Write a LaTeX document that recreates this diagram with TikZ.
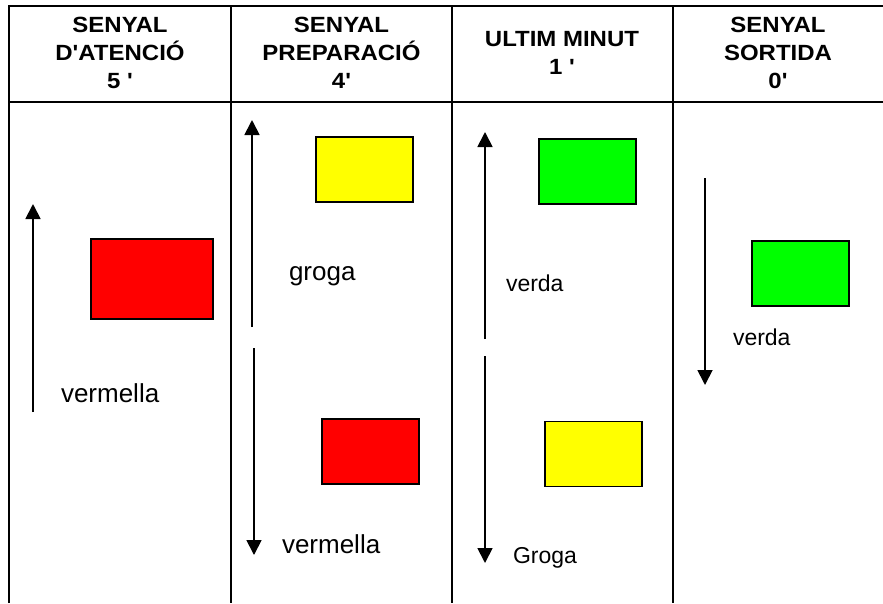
\documentclass[tikz,border=0pt]{standalone}
\usepackage{fontspec}
\setmainfont{Liberation Sans}[Ligatures=TeXOff]
\newfontfamily\headfont{Liberation Sans}[Ligatures=TeXOff,FakeStretch=1.09]
\usetikzlibrary{arrows.meta, positioning}
\definecolor{flagred}{RGB}{255,0,0}
\definecolor{flagyellow}{RGB}{255,255,0}
\definecolor{flaggreen}{RGB}{0,255,0}

\begin{document}
\begin{tikzpicture}[x=1pt,y=-1pt,
    every node/.style={inner sep=0,outer sep=0},
    head/.style={font=\headfont\bfseries\fontsize{22}{27.7}\selectfont,align=center},
    flag/.style={draw,line width=1.4pt,minimum width=97pt,minimum height=65pt},
    lbl/.style={font=\fontsize{23}{27}\selectfont,anchor=base west},
    biglbl/.style={lbl,font=\fontsize{26}{30}\selectfont},
    sig/.style={line width=1.8pt,-{Triangle[length=15pt,width=15pt]}}]
  \useasboundingbox (0,0) rectangle (883,603);

  % table
  \draw[line width=2pt] (9,603) -- (9,6) -- (883,6) (9,102) -- (883,102)
    (231,6) -- (231,603) (452,6) -- (452,603) (673,6) -- (673,603);

  \node[head](atencio) at (120,53){SENYAL\\D'ATENCIÓ\\5 '};
  \node[head](prep) at (341.5,53){SENYAL\\PREPARACIÓ\\4'};
  \node[head](ultim) at (562,53){ULTIM MINUT\\1 '};
  \node[head](sortida) at (778,53){SENYAL\\SORTIDA\\0'};

  % senyal d'atencio
  \node[flag,fill=flagred,minimum width=122pt,minimum height=80pt](red1) at (152,279){};
  \node[biglbl](verm1) at (61,402){vermella};
  \coordinate(a1s) at (33,412);
  \coordinate(a1e) at (33,204);
  \draw[sig](a1s)--(a1e);

  % senyal preparacio
  \node[flag,fill=flagyellow](yel2) at (364.5,169.5){};
  \node[biglbl](grog2) at (289,280){groga};
  \node[flag,fill=flagred](red2) at (370.5,451.5){};
  \node[biglbl](verm2) at (282,553){vermella};
  \coordinate(a2s) at (252,327);
  \coordinate(a2e) at (252,120);
  \coordinate(b2s) at (254,348);
  \coordinate(b2e) at (254,555);
  \draw[sig](a2s)--(a2e);
  \draw[sig](b2s)--(b2e);

  % ultim minut
  \node[flag,fill=flaggreen](gre3) at (587.5,171.5){};
  \node[lbl](verd3) at (506,291){verda};
  \node[flag,fill=flagyellow](yel3) at (593.5,454){};
  \node[lbl](grog3) at (513,563){Groga};
  \coordinate(a3s) at (485,339);
  \coordinate(a3e) at (485,132);
  \coordinate(b3s) at (485,356);
  \coordinate(b3e) at (485,563);
  \draw[sig](a3s)--(a3e);
  \draw[sig](b3s)--(b3e);

  % senyal sortida
  \node[flag,fill=flaggreen](gre4) at (800.5,273.5){};
  \node[lbl](verd4) at (733,345){verda};
  \coordinate(b4s) at (705,178);
  \coordinate(b4e) at (705,385);
  \draw[sig](b4s)--(b4e);
\end{tikzpicture}
\end{document}
